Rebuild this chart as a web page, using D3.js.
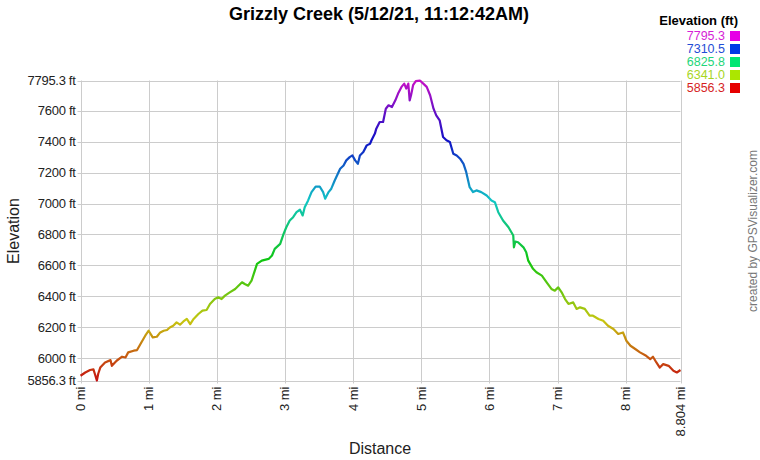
<!DOCTYPE html>
<html><head><meta charset="utf-8">
<script src="https://cdn.jsdelivr.net/npm/d3@7"></script>
<style>
html,body{margin:0;padding:0;background:#fff;}
text{font-family:"Liberation Sans",Arial,sans-serif;}
</style></head>
<body><svg id="c" width="760" height="460"></svg>
<script>
const title = "Grizzly Creek (5/12/21, 11:12:42AM)";
const distance = [0.00,0.07,0.14,0.19,0.21,0.24,0.26,0.29,0.36,0.44,0.46,0.53,0.61,0.66,0.70,0.78,0.83,0.88,0.95,1.00,
1.06,1.12,1.17,1.22,1.27,1.31,1.36,1.41,1.46,1.51,1.56,1.61,1.66,1.73,1.79,1.85,1.90,1.97,2.02,2.07,
2.12,2.19,2.27,2.37,2.41,2.46,2.51,2.59,2.66,2.76,2.81,2.85,2.93,2.98,3.02,3.07,3.12,3.17,3.22,3.26,
3.29,3.34,3.39,3.45,3.51,3.56,3.59,3.64,3.68,3.73,3.81,3.86,3.90,3.95,3.99,4.03,4.07,4.10,4.15,4.20,
4.25,4.27,4.32,4.34,4.39,4.44,4.48,4.52,4.57,4.62,4.66,4.71,4.75,4.78,4.81,4.83,4.85,4.88,4.92,4.98,
5.03,5.08,5.13,5.18,5.22,5.27,5.32,5.37,5.42,5.47,5.52,5.57,5.62,5.66,5.71,5.76,5.81,5.88,5.96,6.03,
6.08,6.13,6.20,6.28,6.35,6.36,6.38,6.42,6.50,6.54,6.57,6.64,6.69,6.77,6.84,6.91,6.96,7.01,7.06,7.11,
7.16,7.23,7.28,7.33,7.40,7.47,7.52,7.60,7.67,7.74,7.82,7.89,7.96,8.01,8.07,8.14,8.21,8.30,8.36,8.40,
8.45,8.50,8.55,8.63,8.70,8.75,8.804];
const elevation = [5887,5908,5924,5928,5900,5856,5900,5940,5973,5988,5951,5984,6010,6005,6038,6049,6053,6092,6146,6178,
6135,6139,6167,6178,6183,6199,6210,6232,6217,6238,6254,6221,6254,6286,6308,6312,6351,6383,6394,6383,
6405,6426,6448,6491,6480,6469,6502,6610,6631,6642,6664,6707,6739,6804,6847,6890,6912,6944,6960,6923,
6976,7020,7074,7110,7110,7074,7031,7074,7096,7149,7225,7246,7279,7300,7311,7279,7257,7311,7333,7376,
7387,7409,7452,7484,7527,7527,7613,7635,7624,7667,7711,7754,7775,7743,7775,7667,7700,7765,7791,7795,
7775,7754,7700,7613,7570,7538,7430,7409,7398,7322,7311,7290,7257,7203,7106,7074,7085,7074,7052,7020,
7009,6944,6890,6847,6793,6717,6754,6750,6717,6685,6631,6578,6556,6534,6491,6448,6437,6458,6426,6383,
6351,6361,6319,6329,6319,6275,6275,6254,6243,6210,6189,6157,6167,6113,6081,6060,6038,6016,5995,6010,
5973,5940,5962,5951,5919,5908,5924];
const yTicks = [5856.3,6000,6200,6400,6600,6800,7000,7200,7400,7600,7795.3];
const yTickLabels = ["5856.3 ft","6000 ft","6200 ft","6400 ft","6600 ft","6800 ft","7000 ft","7200 ft","7400 ft","7600 ft","7795.3 ft"];
const xTicks = [0,1,2,3,4,5,6,7,8,8.804];
const xTickLabels = ["0 mi","1 mi","2 mi","3 mi","4 mi","5 mi","6 mi","7 mi","8 mi","8.804 mi"];
const legendValues = ["7795.3","7310.5","6825.8","6341.0","5856.3"];
const legendElev = [7795.3,7310.5,6825.8,6341.0,5856.3];

const svg = d3.select("#c");
const L=80.5, R=680.5, T=80.5, B=380.5;
const x = d3.scaleLinear().domain([0,8.804]).range([L,R]);
const y = d3.scaleLinear().domain([5856.3,7795.3]).range([B,T]);
const hue = d3.scaleLinear().domain([5856.3,7795.3]).range([0,300]);
const lineColor = e => d3.hsl(hue(e),0.85,0.42).formatHex();
const boxColor = e => d3.hsl(hue(e),1,0.45).formatHex();
const textColor = e => d3.hsl(hue(e),0.75,0.48).formatHex();

// gridlines
const g = svg.append("g");
g.selectAll(".hg").data(yTicks).join("line")
  .attr("x1",L-3).attr("x2",R).attr("y1",d=>Math.round(y(d))+0.5).attr("y2",d=>Math.round(y(d))+0.5)
  .attr("stroke","#cccccc").attr("stroke-width",1);
g.selectAll(".vg").data(xTicks).join("line")
  .attr("x1",d=>Math.round(x(d))+0.5).attr("x2",d=>Math.round(x(d))+0.5).attr("y1",T).attr("y2",B+3)
  .attr("stroke","#cccccc").attr("stroke-width",1);

// y labels
svg.selectAll(".yl").data(yTicks).join("text")
  .attr("x",L-5).attr("y",d=>y(d)+4.5).attr("text-anchor","end")
  .attr("font-size",13).attr("fill","#222").attr("letter-spacing","-0.3")
  .text((d,i)=>yTickLabels[i]);
// x labels
svg.selectAll(".xl").data(xTicks).join("text")
  .attr("transform",d=>`translate(${x(d)+4.5},${B+6}) rotate(-90)`)
  .attr("text-anchor","end").attr("font-size",13).attr("fill","#222")
  .text((d,i)=>xTickLabels[i]);

// gradient
const defs = svg.append("defs");
const grad = defs.append("linearGradient").attr("id","eg")
  .attr("gradientUnits","userSpaceOnUse").attr("x1",0).attr("x2",0)
  .attr("y1",y(5856.3)).attr("y2",y(7795.3));
d3.range(0,11).forEach(i=>{
  const e = 5856.3 + (7795.3-5856.3)*i/10;
  grad.append("stop").attr("offset",i/10).attr("stop-color",lineColor(e));
});
const data = distance.map((d,i)=>[d,elevation[i]]);
svg.append("path").datum(data)
  .attr("d",d3.line().x(d=>x(d[0])).y(d=>y(d[1])))
  .attr("fill","none").attr("stroke","url(#eg)").attr("stroke-width",2.2)
  .attr("stroke-linejoin","round");

// title
svg.append("text").attr("x",379).attr("y",20).attr("text-anchor","middle")
  .attr("font-size",18).attr("font-weight","bold").attr("fill","#000").text(title);
// axis titles
svg.append("text").attr("transform","translate(19,231) rotate(-90)").attr("text-anchor","middle")
  .attr("font-size",16).attr("fill","#222").text("Elevation");
svg.append("text").attr("x",380).attr("y",454).attr("text-anchor","middle")
  .attr("font-size",16).attr("fill","#222").text("Distance");
svg.append("text").attr("transform","translate(757,231) rotate(-90)").attr("text-anchor","middle")
  .attr("font-size",12).attr("fill","#777").text("created by GPSVisualizer.com");

// legend
svg.append("text").attr("x",738).attr("y",25).attr("text-anchor","end")
  .attr("font-size",13).attr("font-weight","bold").attr("fill","#000").text("Elevation (ft)");
const lg = svg.selectAll(".lg").data(legendValues).join("g")
  .attr("transform",(d,i)=>`translate(0,${40+i*13})`);
lg.append("text").attr("x",725).attr("y",0).attr("text-anchor","end")
  .attr("font-size",12.5).attr("fill",(d,i)=>textColor(legendElev[i])).text(d=>d);
lg.append("rect").attr("x",730).attr("y",-9).attr("width",10).attr("height",10)
  .attr("fill",(d,i)=>boxColor(legendElev[i]));
</script></body></html>
